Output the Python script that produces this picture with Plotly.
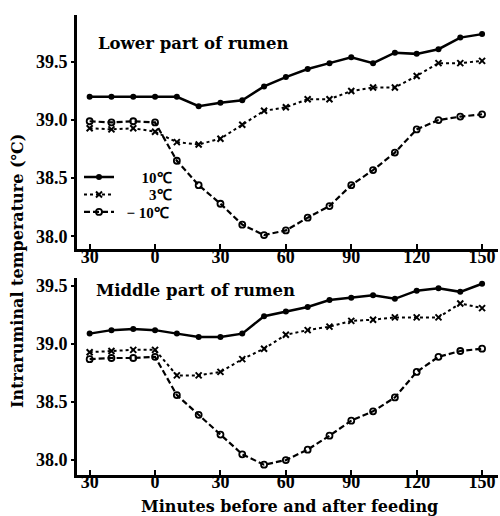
import plotly.graph_objects as go

minutes = [-30, -20, -10, 0, 10, 20, 30, 40, 50, 60, 70, 80, 90, 100, 110, 120, 130, 140, 150]
tick_vals = [-30, 0, 30, 60, 90, 120, 150]
tick_text = ["30", "0", "30", "60", "90", "120", "150"]
y_ticks = [38.0, 38.5, 39.0, 39.5]
y_text = ["38.0", "38.5", "39.0", "39.5"]

lower_10 = [39.20, 39.20, 39.20, 39.20, 39.20, 39.12, 39.15, 39.17, 39.29, 39.37, 39.44, 39.49, 39.54, 39.49, 39.58, 39.57, 39.61, 39.71, 39.74]
lower_3 = [38.93, 38.92, 38.93, 38.90, 38.81, 38.79, 38.84, 38.96, 39.08, 39.11, 39.18, 39.18, 39.25, 39.28, 39.28, 39.38, 39.49, 39.49, 39.51]
lower_m10 = [38.99, 38.98, 38.99, 38.98, 38.65, 38.44, 38.28, 38.10, 38.01, 38.05, 38.16, 38.26, 38.44, 38.57, 38.72, 38.92, 39.00, 39.03, 39.05]

middle_10 = [39.09, 39.12, 39.13, 39.12, 39.09, 39.06, 39.06, 39.09, 39.24, 39.28, 39.32, 39.38, 39.40, 39.42, 39.39, 39.46, 39.48, 39.45, 39.52]
middle_3 = [38.93, 38.94, 38.95, 38.95, 38.73, 38.73, 38.76, 38.87, 38.96, 39.08, 39.12, 39.15, 39.20, 39.21, 39.23, 39.23, 39.23, 39.35, 39.31]
middle_m10 = [38.87, 38.88, 38.88, 38.89, 38.56, 38.39, 38.22, 38.05, 37.96, 38.00, 38.09, 38.21, 38.34, 38.42, 38.54, 38.76, 38.89, 38.94, 38.96]

series_names = ["\u2007\u2007\u200710℃", "\u2007\u2007\u2007\u20073℃", "\u2007− 10℃"]
FONT = "Liberation Serif"
TFONT = "DejaVu Serif"

styles = [
    dict(line=dict(color="black", width=2.5, dash="solid"),
         marker=dict(symbol="circle", size=6, color="black")),
    dict(line=dict(color="black", width=2, dash="dot"),
         marker=dict(symbol="x-thin", size=6, color="black", line=dict(width=2, color="black"))),
    dict(line=dict(color="black", width=2.2, dash="6px,3px"),
         marker=dict(symbol="circle-open", size=6, color="black", line=dict(width=1.8, color="black"))),
]
legend_ids = ["legend", "legend2", "legend3"]

fig = go.Figure()
panels = [("x", "y", [lower_10, lower_3, lower_m10], True),
          ("x2", "y2", [middle_10, middle_3, middle_m10], False)]
for xa, ya, data, show in panels:
    for name, vals, st, lg in zip(series_names, data, styles, legend_ids):
        fig.add_trace(go.Scatter(x=minutes, y=vals, mode="lines+markers", name=name,
                                 xaxis=xa, yaxis=ya, showlegend=show, legend=lg, **st))

# invisible carriers so that the label-only axes get drawn
for xa, ya in [("x3", "y"), ("x4", "y2")]:
    fig.add_trace(go.Scatter(x=[None], y=[None], xaxis=xa, yaxis=ya, mode="markers",
                             showlegend=False, hoverinfo="skip"))

W, H = 500, 516
xdom = [77 / W, 498 / W]
xr = [-35.8, 157.3]
tick_font = dict(family=FONT, size=18, color="black", weight="bold")
common_x = dict(range=xr, domain=xdom, tickvals=tick_vals, showticklabels=False,
                showline=True, linecolor="black", linewidth=2.5, ticks="inside",
                ticklen=5, tickwidth=2, tickcolor="black", showgrid=False, zeroline=False)
label_x = dict(range=xr, domain=xdom, tickvals=tick_vals, ticktext=tick_text,
               showline=False, ticks="", showgrid=False, zeroline=False,
               tickfont=tick_font, anchor="free", side="bottom")
common_y = dict(tickvals=y_ticks, ticktext=y_text, showline=True, linecolor="black",
                linewidth=3, ticks="outside", ticklen=3, tickwidth=2, tickcolor="black",
                showgrid=False, zeroline=False, tickfont=tick_font)

leg_common = dict(x=79 / W, xanchor="left", yanchor="middle", bgcolor="rgba(0,0,0,0)",
                  itemwidth=30, font=dict(family=FONT, size=15, color="black", weight="bold"))

fig.update_layout(
    width=W, height=H,
    margin=dict(l=0, r=0, t=0, b=0),
    paper_bgcolor="white", plot_bgcolor="white",
    xaxis=dict(anchor="y", **common_x),
    yaxis=dict(anchor="x", domain=[1 - 248 / H, 1 - 13 / H], range=[37.89, 39.905], **common_y),
    xaxis2=dict(anchor="y2", **common_x),
    yaxis2=dict(anchor="x2", domain=[1 - 475 / H, 1 - 277 / H], range=[37.87, 39.57], **common_y),
    xaxis3=dict(overlaying="x", position=1 - 243 / H, **label_x),
    xaxis4=dict(overlaying="x2", position=1 - 469 / H, **label_x),
    legend=dict(y=1 - 176 / H, **leg_common),
    legend2=dict(y=1 - 193.5 / H, **leg_common),
    legend3=dict(y=1 - 211 / H, **leg_common),
    annotations=[
        dict(text="<b>Lower part of rumen</b>", xref="paper", yref="paper",
             x=96 / W, y=1 - 42 / H, xanchor="left", yanchor="middle", showarrow=False,
             font=dict(family=TFONT, size=16.5, color="black")),
        dict(text="<b>Middle part of rumen</b>", xref="paper", yref="paper",
             x=94 / W, y=1 - 290 / H, xanchor="left", yanchor="middle", showarrow=False,
             font=dict(family=TFONT, size=16.5, color="black")),
        dict(text="<b>Minutes before and after feeding</b>", xref="paper", yref="paper",
             x=289 / W, y=1 - 506 / H, xanchor="center", yanchor="middle", showarrow=False,
             font=dict(family=TFONT, size=16, color="black")),
        dict(text="<b>Intraruminal temperature (℃)</b>", xref="paper", yref="paper",
             x=18 / W, y=1 - 270 / H, xanchor="center", yanchor="middle", showarrow=False,
             textangle=-90, font=dict(family=TFONT, size=16, color="black")),
    ],
)

fig.write_html("out.html")
